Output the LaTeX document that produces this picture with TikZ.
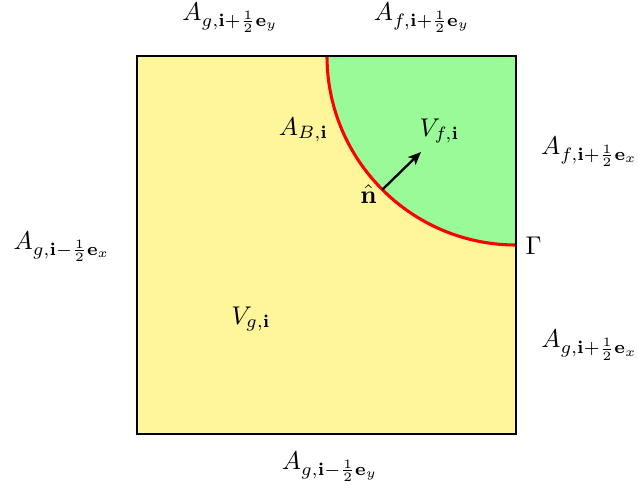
\documentclass[tikz,border=0pt]{standalone}
\usepackage{amsmath}
\usetikzlibrary{arrows.meta}
\definecolor{cellyellow}{RGB}{255,246,155}
\definecolor{cellgreen}{RGB}{152,251,152}
\begin{document}
\begin{tikzpicture}[x=0.39pt,y=-0.39pt,
  lbl/.style={inner sep=0pt},
  edge/.style={line width=0.8pt},
  iface/.style={red,line width=1.2pt},
  normalarrow/.style={-{Stealth[length=5pt,width=4.2pt,inset=1.2pt]},line width=0.9pt}]
\useasboundingbox (0,0) rectangle (638,493);
\coordinate (SW) at (137,434);
\coordinate (NE) at (516,56);
\fill[cellyellow] (SW) rectangle (NE);
\fill[cellgreen] (327,56) arc[start angle=180,end angle=90,radius=189] -- (NE) -- cycle;
\draw[iface] (327,56) arc[start angle=180,end angle=90,radius=189];
\draw[edge] (SW) rectangle (NE);
\coordinate (P) at (382.4,189.6);
\coordinate (Q) at (421,152);
\draw[normalarrow] (P) -- (Q);
\node[lbl] (n) at (368.5,194) {$\hat{\mathbf{n}}$};
\node[lbl] (vf) at (439.5,131) {$V_{f,\mathbf{i}}$};
\node[lbl] (ab) at (303.5,130) {$A_{B,\mathbf{i}}$};
\node[lbl,anchor=west] (gam) at (525,246) {$\Gamma$};
\node[lbl] (vg) at (251,319) {$V_{g,\mathbf{i}}$};
\node[lbl] (t1) at (230.5,17.5) {$A_{g,\mathbf{i}+\frac{1}{2}\mathbf{e}_y}$};
\node[lbl] (t2) at (422,17.5) {$A_{f,\mathbf{i}+\frac{1}{2}\mathbf{e}_y}$};
\node[lbl] (r1) at (589.5,151.5) {$A_{f,\mathbf{i}+\frac{1}{2}\mathbf{e}_x}$};
\node[lbl] (r2) at (589.5,345) {$A_{g,\mathbf{i}+\frac{1}{2}\mathbf{e}_x}$};
\node[lbl] (l1) at (62,246.5) {$A_{g,\mathbf{i}-\frac{1}{2}\mathbf{e}_x}$};
\node[lbl] (b1) at (330,466.5) {$A_{g,\mathbf{i}-\frac{1}{2}\mathbf{e}_y}$};
\end{tikzpicture}
\end{document}
